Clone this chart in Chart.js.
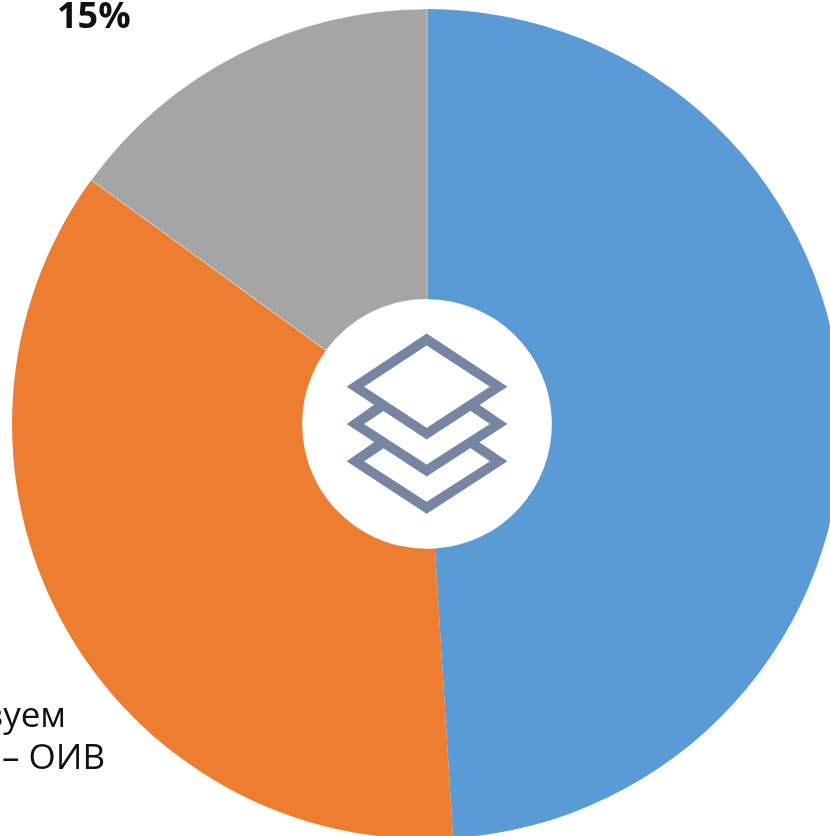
<!DOCTYPE html>
<html lang="ru">
<head>
<meta charset="utf-8">
<title>Круговая диаграмма</title>
<script src="https://cdn.jsdelivr.net/npm/chart.js@4"></script>
<style>
html,body{margin:0;padding:0;background:#fff;width:830px;height:836px;overflow:hidden}
#stage{position:relative;width:830px;height:836px;overflow:hidden}
#wrap{position:absolute;left:0;top:0;width:854px;height:848px}
.lbl{position:absolute;font-family:"Open Sans",sans-serif;color:#111;white-space:nowrap;line-height:1}
#icon{position:absolute;left:300px;top:290px}
</style>
</head>
<body>
<div id="stage">
  <div id="wrap"><canvas id="c" width="854" height="848"></canvas></div>
  <div class="lbl" id="pct" style="left:57px;top:-3px;font-size:36px;font-weight:700"></div>
  <div class="lbl" id="l1" style="right:764px;top:696px;font-size:35px"></div>
  <div class="lbl" id="l2" style="right:725px;top:738px;font-size:35px"></div>
  <svg id="icon" width="260" height="270" viewBox="0 0 780 810" fill="#7686a2" stroke="#7686a2" stroke-width="3" stroke-linejoin="miter">
    <path fill-rule="evenodd" d="M380 132L620 290L380 447L142 290ZM380 165L190 290L380 415L572 290Z"/>
    <path d="M235 337L142 402L380 558L620 402L525 337L513 362L572 402L380 525L190 402L250 362Z"/>
    <path d="M235 449L142 514L380 670L620 514L525 449L513 474L572 514L380 637L190 514L250 474Z"/>
  </svg>
</div>
<script>
const categories = ["Категория 1", "Используем", "Категория 3"];
const seriesValues = [49, 36, 15];
const labelLines = ["Используем", "– ОИВ"];

document.getElementById("pct").textContent = seriesValues[2] + "%";
document.getElementById("l1").textContent = labelLines[0];
document.getElementById("l2").textContent = labelLines[1];

new Chart(document.getElementById("c"), {
  type: "doughnut",
  data: {
    labels: categories,
    datasets: [{
      data: seriesValues,
      backgroundColor: ["#5B9BD5", "#ED7D31", "#A5A5A5"],
      borderColor: "#ffffff",
      borderWidth: [0, 0, 0.5]
    }]
  },
  options: {
    responsive: false,
    animation: false,
    radius: 415,
    cutout: 127.5,
    layout: { padding: 0 },
    plugins: { legend: { display: false }, tooltip: { enabled: false } }
  }
});
</script>
</body>
</html>
